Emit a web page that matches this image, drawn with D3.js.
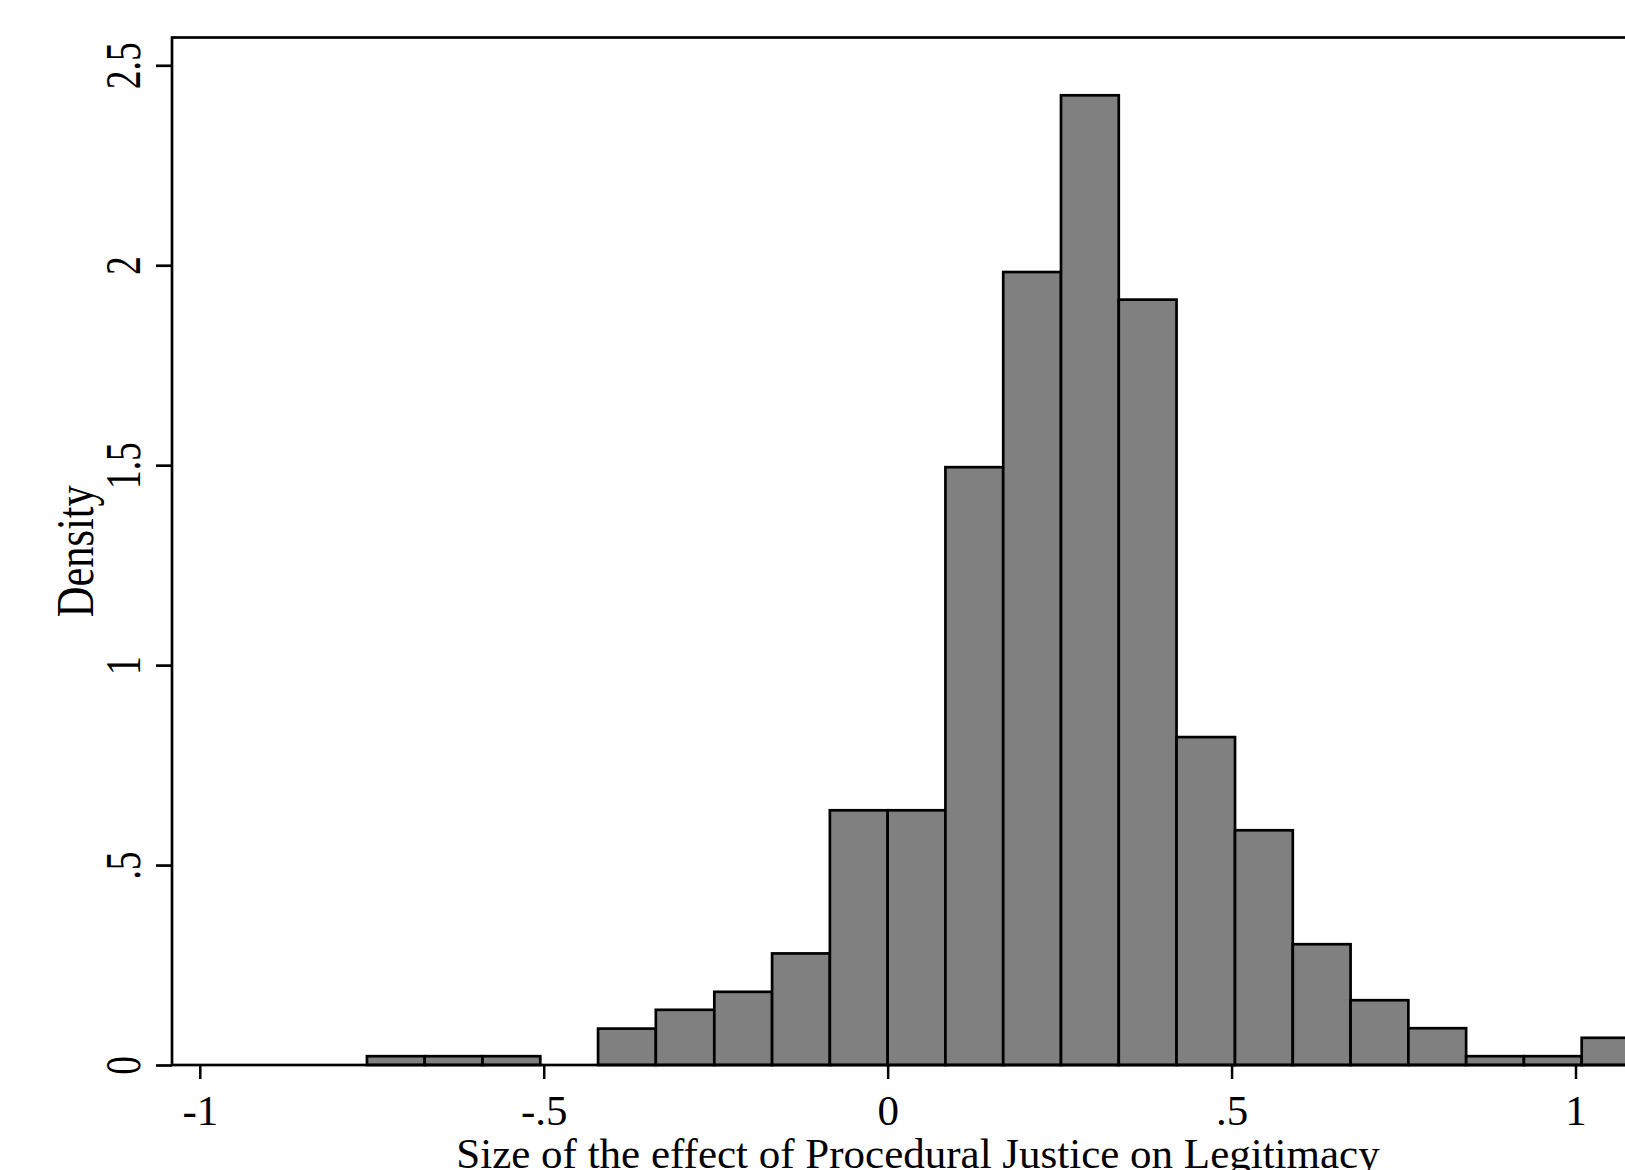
<!DOCTYPE html>
<html>
  <head>
    <meta charset="utf-8" />
    <style>
      body {
        margin: 0;
        background: #fff;
      }
      svg text {
        font-family: "Liberation Serif", "Times New Roman", serif;
        fill: #000;
      }
    </style>
  </head>
  <body>
    <div id="chart"></div>

    <script src="https://cdn.jsdelivr.net/npm/d3@7"></script>
    <script>
      // bin edges (left edge of each bin, plus the last right edge)
      var binEdges = [-0.757, -0.673, -0.589, -0.505, -0.421, -0.337, -0.252, -0.168,
                      -0.084, 0.000, 0.084, 0.168, 0.252, 0.336, 0.420, 0.505,
                      0.589, 0.673, 0.757, 0.841, 0.925, 1.009, 1.093];
      // density of each bin
      var densities = [0.022, 0.022, 0.022, 0, 0.091, 0.138, 0.183, 0.279,
                       0.637, 0.637, 1.495, 1.983, 2.425, 1.914, 0.820, 0.587,
                       0.302, 0.162, 0.092, 0.022, 0.022, 0.068];

      var xTickValues = [-1, -0.5, 0, 0.5, 1];
      var xTickLabels = ["-1", "-.5", "0", ".5", "1"];
      var yTickValues = [0, 0.5, 1, 1.5, 2, 2.5];
      var yTickLabels = ["0", ".5", "1", "1.5", "2", "2.5"];

      var xTitle = "Size of the effect of Procedural Justice on Legitimacy";
      var yTitle = "Density";

      var width = 1625;
      var height = 1170;

      var plotLeft = 172;
      var plotTop = 37.5;
      var plotRight = 1664;   // the frame runs off the picture on the right

      var x = d3.scaleLinear().domain([-1, 1]).range([199.8, 1575.5]);
      var y = d3.scaleLinear().domain([0, 2.5]).range([1065, 65.3]);

      var svg = d3.select('#chart')
        .append('svg')
        .attr('width', width)
        .attr('height', height);

      var bins = densities.map(function(d, i) {
        return { x0: binEdges[i], x1: binEdges[i + 1], value: d };
      }).filter(function(d) { return d.value > 0; });

      svg.append('g')
        .selectAll('rect')
        .data(bins)
        .enter()
        .append('rect')
        .attr('x', function(d) { return x(d.x0); })
        .attr('width', function(d) { return x(d.x1) - x(d.x0); })
        .attr('y', function(d) { return y(d.value); })
        .attr('height', function(d) { return y(0) - y(d.value); })
        .attr('fill', '#808080')
        .attr('stroke', '#000')
        .attr('stroke-width', 2.7);

      // plot frame
      svg.append('rect')
        .attr('x', plotLeft)
        .attr('y', plotTop)
        .attr('width', plotRight - plotLeft)
        .attr('height', y(0) - plotTop)
        .attr('fill', 'none')
        .attr('stroke', '#000')
        .attr('stroke-width', 2.7);

      var xAxis = d3.axisBottom(x)
        .tickValues(xTickValues)
        .tickFormat(function(d, i) { return xTickLabels[i]; })
        .tickSize(14);

      var gx = svg.append('g')
        .attr('transform', 'translate(0,' + y(0) + ')')
        .call(xAxis);
      gx.select('.domain').remove();
      gx.selectAll('.tick line').attr('stroke', '#000').attr('stroke-width', 2.5);
      gx.selectAll('.tick text')
        .attr('y', 60)
        .attr('dy', 0)
        .attr('font-size', 43)
        .attr('font-family', null);

      var yAxis = d3.axisLeft(y)
        .tickValues(yTickValues)
        .tickFormat(function(d, i) { return yTickLabels[i]; })
        .tickSize(16);

      var gy = svg.append('g')
        .attr('transform', 'translate(' + plotLeft + ',0)')
        .call(yAxis);
      gy.select('.domain').remove();
      gy.selectAll('.tick line').attr('stroke', '#000').attr('stroke-width', 2.7);
      gy.selectAll('.tick text')
        .attr('x', 0)
        .attr('dy', 0)
        .attr('text-anchor', 'middle')
        .attr('font-size', 50)
        .attr('font-family', null)
        .attr('transform', 'translate(-32,0) rotate(-90) scale(0.75,1)');

      // axis titles
      svg.append('text')
        .attr('x', (plotLeft + plotRight) / 2)
        .attr('y', 1168)
        .attr('text-anchor', 'middle')
        .attr('font-size', 43)
        .text(xTitle);

      svg.append('text')
        .attr('text-anchor', 'middle')
        .attr('font-size', 53)
        .attr('transform', 'translate(93,' + ((plotTop + y(0)) / 2) + ') rotate(-90) scale(0.8,1)')
        .text(yTitle);
    </script>
  </body>
</html>
